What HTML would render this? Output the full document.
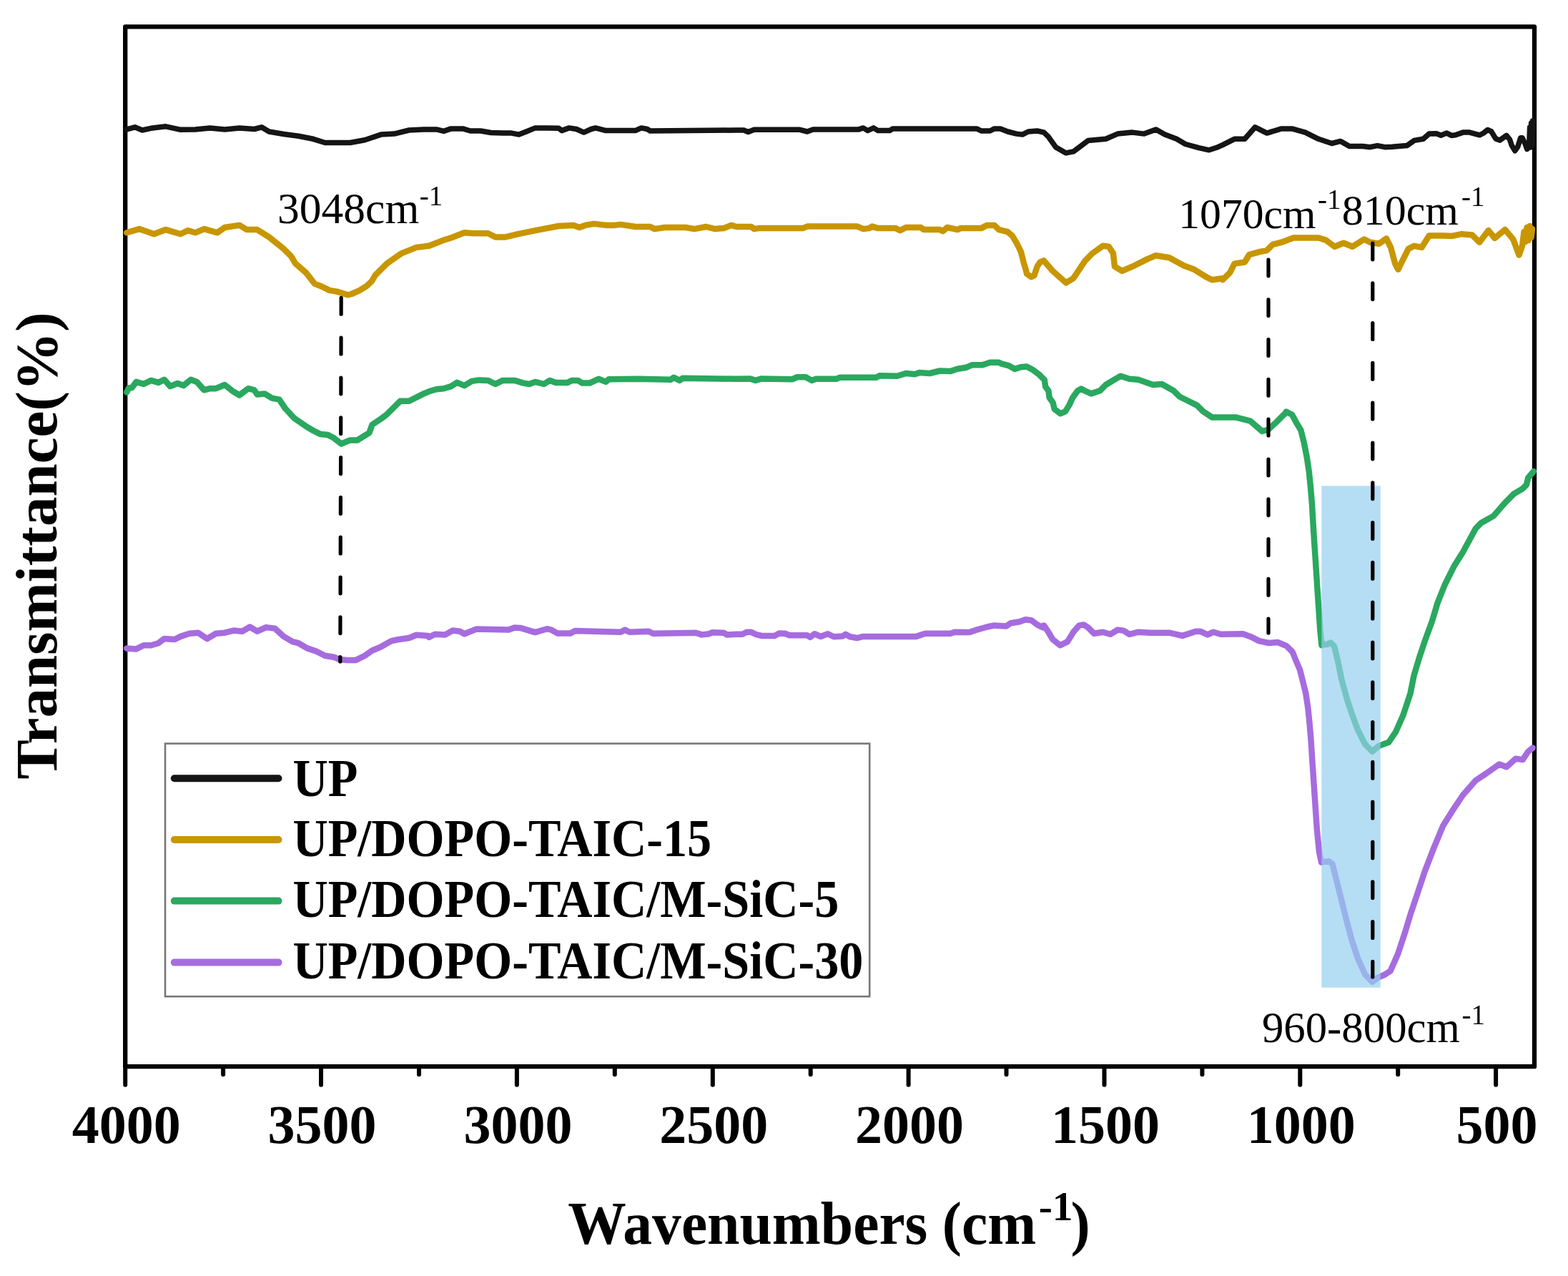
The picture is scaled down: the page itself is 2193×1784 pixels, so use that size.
<!DOCTYPE html>
<html><head><meta charset="utf-8"><title>FTIR spectra</title>
<style>html,body{margin:0;padding:0;background:#fff;}svg{display:block;filter:blur(0.7px);}</style>
</head><body>
<svg width="2193" height="1784" viewBox="0 0 2193 1784">
<rect width="2193" height="1784" fill="#fff"/>
<g stroke="#000" stroke-width="6.3" fill="none" stroke-linejoin="round">
<rect x="175.2" y="37.4" width="1970.8" height="1453.8"/>
</g>
<g stroke="#000" stroke-width="6" fill="none" stroke-linecap="round">
<line x1="175.2" y1="1491.2" x2="175.2" y2="1516.7"/><line x1="312.1" y1="1491.2" x2="312.1" y2="1502.2"/><line x1="449.0" y1="1491.2" x2="449.0" y2="1516.7"/><line x1="586.0" y1="1491.2" x2="586.0" y2="1502.2"/><line x1="722.9" y1="1491.2" x2="722.9" y2="1516.7"/><line x1="859.8" y1="1491.2" x2="859.8" y2="1502.2"/><line x1="996.8" y1="1491.2" x2="996.8" y2="1516.7"/><line x1="1133.7" y1="1491.2" x2="1133.7" y2="1502.2"/><line x1="1270.6" y1="1491.2" x2="1270.6" y2="1516.7"/><line x1="1407.5" y1="1491.2" x2="1407.5" y2="1502.2"/><line x1="1544.5" y1="1491.2" x2="1544.5" y2="1516.7"/><line x1="1681.4" y1="1491.2" x2="1681.4" y2="1502.2"/><line x1="1818.3" y1="1491.2" x2="1818.3" y2="1516.7"/><line x1="1955.2" y1="1491.2" x2="1955.2" y2="1502.2"/><line x1="2092.1" y1="1491.2" x2="2092.1" y2="1516.7"/>
</g>
<g fill="none" stroke-linejoin="round" stroke-linecap="round" stroke-width="8.5">
<path d="M177.2,180.9 L188.6,177.8 L198.9,182.0 L211.2,179.3 L231.9,176.8 L252.5,181.3 L273.1,180.9 L293.7,178.9 L314.3,180.9 L334.9,178.9 L355.6,180.5 L365.9,177.8 L376.2,184.0 L396.8,187.5 L417.4,190.2 L438.0,194.3 L454.5,199.5 L469.0,199.5 L489.6,199.5 L510.2,195.8 L532.9,188.1 L551.4,187.1 L572.1,182.0 L592.7,180.9 L600.0,180.9 L610.3,180.9 L620.6,183.4 L630.9,179.9 L647.4,179.9 L657.7,183.0 L672.2,183.0 L686.6,185.5 L703.1,186.1 L715.5,186.1 L725.8,188.1 L736.1,184.0 L748.5,178.9 L764.9,178.9 L781.4,179.3 L785.6,182.6 L795.9,178.9 L806.2,180.5 L816.5,185.1 L826.8,180.5 L833.0,178.9 L847.4,182.6 L888.7,182.6 L896.9,178.9 L905.2,180.5 L909.3,183.0 L1030.0,182.0 L1040.3,182.0 L1046.5,184.6 L1054.7,181.3 L1118.7,181.3 L1129.0,184.0 L1137.2,180.9 L1201.1,180.9 L1207.3,178.9 L1213.5,182.6 L1221.8,178.9 L1227.9,182.6 L1244.4,182.6 L1248.6,179.9 L1366.1,179.9 L1372.3,183.0 L1384.6,183.0 L1390.8,179.9 L1399.1,179.9 L1409.4,184.0 L1421.8,187.1 L1430.0,188.1 L1438.2,184.0 L1450.6,183.0 L1460.0,185.1 L1466.2,191.2 L1476.5,205.7 L1490.9,213.9 L1501.2,211.9 L1521.9,196.4 L1546.6,194.3 L1563.1,187.1 L1583.7,185.1 L1600.2,187.1 L1616.7,180.9 L1629.1,188.1 L1645.6,194.3 L1657.9,201.5 L1676.5,206.7 L1690.9,209.8 L1703.3,205.7 L1710.0,202.6 L1726.5,194.3 L1740.9,194.3 L1755.4,177.8 L1771.9,186.1 L1792.5,179.9 L1806.9,179.9 L1825.5,185.1 L1844.0,194.3 L1862.6,200.5 L1874.9,197.4 L1887.3,204.6 L1905.9,204.6 L1916.2,205.7 L1926.5,203.6 L1936.8,205.7 L1947.1,205.3 L1967.7,203.6 L1978.0,196.4 L1990.4,194.3 L1998.7,187.1 L2009.0,186.7 L2015.2,189.2 L2023.4,186.1 L2030.0,189.4 L2035.6,188.8 L2046.9,184.9 L2055.3,185.1 L2069.4,188.8 L2075.0,186.0 L2080.6,181.5 L2085.7,183.7 L2091.9,193.9 L2097.5,196.1 L2107.0,189.4 L2111.5,195.0 L2114.3,203.4 L2118.8,210.7 L2122.8,205.1 L2126.7,192.7 L2129.0,192.7 L2132.9,200.6 L2135.7,208.5 L2138.6,206.0 L2139.6,178.0 L2140.6,206.0 L2141.6,172.0 L2142.6,204.0 L2143.2,172.0 L2143.6,169.1" stroke="#151515" stroke-width="7.5"/>
<path d="M177.2,325.3 L194.7,320.1 L215.4,327.3 L231.9,321.1 L252.5,327.3 L262.8,322.2 L273.1,325.3 L285.5,320.1 L304.0,325.3 L314.3,318.0 L334.9,314.9 L345.3,321.1 L359.7,321.1 L376.2,331.4 L396.8,347.9 L407.1,358.2 L413.3,368.6 L427.7,380.9 L440.0,396.6 L450.4,400.7 L460.7,405.9 L471.1,407.6 L481.5,410.8 L486.6,412.3 L491.8,411.0 L502.2,406.4 L512.5,400.2 L519.8,393.4 L524.6,385.1 L541.1,368.6 L561.8,354.1 L582.4,345.9 L600.0,343.8 L610.3,339.7 L620.6,335.6 L630.9,332.5 L649.5,325.3 L661.9,326.3 L682.5,326.3 L692.8,331.4 L707.2,331.4 L723.7,327.3 L744.3,323.2 L764.9,319.1 L781.4,316.0 L802.1,314.9 L810.3,318.0 L818.6,314.9 L830.9,312.9 L847.4,314.9 L859.8,314.9 L868.0,313.9 L888.7,317.0 L909.3,317.0 L915.5,320.1 L929.9,318.0 L958.8,318.0 L971.1,320.1 L987.6,317.0 L1000.0,320.1 L1012.4,319.1 L1022.7,314.9 L1030.0,317.0 L1050.6,317.0 L1054.7,320.1 L1060.9,319.1 L1122.8,319.1 L1129.0,316.6 L1199.1,316.6 L1207.3,320.1 L1215.6,319.1 L1219.7,316.6 L1227.9,319.1 L1252.7,319.1 L1258.9,322.2 L1267.1,318.0 L1287.7,318.0 L1291.9,321.1 L1314.5,321.1 L1318.7,323.2 L1324.8,318.0 L1339.3,321.1 L1343.4,319.1 L1372.3,319.1 L1380.5,314.9 L1390.8,314.9 L1397.0,321.1 L1409.4,324.2 L1415.6,329.4 L1421.8,339.7 L1425.9,347.9 L1427.9,352.1 L1430.0,360.3 L1432.1,368.6 L1434.1,374.7 L1436.2,383.0 L1442.4,387.1 L1446.5,385.1 L1450.6,372.7 L1454.7,366.5 L1460.0,364.4 L1472.4,378.9 L1490.9,395.4 L1501.2,389.2 L1517.7,364.4 L1528.0,354.1 L1542.5,343.8 L1550.7,344.8 L1556.9,354.1 L1559.0,372.7 L1569.3,378.9 L1583.7,372.7 L1604.3,362.4 L1616.7,357.2 L1635.3,360.3 L1655.9,371.6 L1670.3,376.8 L1686.8,387.1 L1695.1,391.2 L1709.5,389.2 L1710.0,391.2 L1720.3,380.9 L1726.5,368.6 L1740.9,366.5 L1747.1,356.2 L1761.5,352.1 L1771.9,350.0 L1780.1,341.8 L1792.5,338.7 L1809.0,332.5 L1823.4,332.5 L1844.0,332.5 L1854.3,335.6 L1866.7,344.8 L1879.1,339.7 L1891.4,344.8 L1907.9,334.5 L1916.2,338.7 L1928.6,340.7 L1938.9,333.5 L1945.1,345.9 L1951.2,368.6 L1955.4,376.8 L1961.5,364.4 L1969.8,347.9 L1978.0,343.8 L1988.4,345.9 L1998.7,329.4 L2019.3,329.4 L2030.0,330.1 L2044.4,327.2 L2058.8,328.4 L2069.2,338.8 L2081.8,322.1 L2090.5,333.0 L2104.9,320.9 L2116.4,334.7 L2124.5,356.6 L2129.1,343.4 L2129.1,343.4 L2131.5,324.0 L2133.5,338.0 L2135.5,318.0 L2137.5,336.0 L2139.5,316.0 L2141.5,332.0 L2143.0,320.0" stroke="#C89600"/>
<path d="M177.2,548.4 L180.3,542.2 L184.4,542.2 L190.6,533.9 L200.9,537.0 L211.2,531.9 L221.5,534.9 L229.8,530.8 L238.0,540.1 L248.4,536.0 L256.6,539.1 L266.9,530.8 L275.2,533.9 L285.5,545.3 L293.7,543.2 L302.0,543.2 L314.3,538.0 L324.6,546.3 L334.9,552.5 L347.3,543.2 L355.6,545.3 L359.7,551.4 L370.0,550.4 L380.3,556.6 L390.6,558.7 L398.9,571.0 L411.2,584.4 L427.7,595.8 L438.0,602.0 L448.4,607.1 L458.7,608.1 L466.9,612.3 L477.2,620.5 L489.6,615.4 L499.9,615.4 L516.4,605.1 L520.5,593.7 L532.9,585.5 L541.1,579.3 L559.7,560.7 L572.1,560.7 L592.7,550.4 L600.0,547.3 L610.3,544.2 L620.6,543.2 L630.9,540.1 L639.2,534.9 L649.5,539.1 L659.8,532.9 L670.1,531.4 L682.5,531.9 L692.8,537.0 L703.1,531.9 L719.6,531.9 L732.0,535.6 L740.2,537.0 L748.5,533.9 L760.8,537.0 L769.1,531.9 L777.3,534.9 L793.8,534.9 L800.0,531.9 L808.2,531.9 L814.4,535.6 L824.7,535.6 L837.1,529.8 L847.4,533.9 L851.5,530.2 L892.8,529.8 L938.1,530.8 L942.3,527.7 L950.5,531.9 L954.6,528.8 L1030.0,529.8 L1048.6,529.4 L1056.8,531.9 L1065.1,529.4 L1108.4,530.2 L1114.5,527.3 L1126.9,527.3 L1135.2,531.9 L1141.3,529.8 L1170.2,529.8 L1174.3,527.7 L1225.9,527.7 L1230.0,525.3 L1254.7,525.7 L1267.1,522.0 L1279.5,523.2 L1285.7,521.1 L1300.1,522.0 L1314.5,518.5 L1329.0,519.1 L1339.3,515.8 L1351.6,513.7 L1359.9,510.2 L1374.3,510.2 L1384.6,506.7 L1397.0,506.7 L1400.0,508.3 L1410.4,511.1 L1419.4,515.9 L1427.6,513.2 L1435.9,512.5 L1444.9,517.3 L1453.9,524.2 L1460.8,531.2 L1462.2,540.8 L1466.4,546.4 L1467.7,556.0 L1472.6,562.9 L1474.7,571.9 L1482.9,578.2 L1489.9,575.4 L1495.4,566.4 L1500.2,556.0 L1507.1,546.4 L1512.0,543.6 L1520.0,547.7 L1526.0,550.4 L1538.4,546.3 L1546.6,538.0 L1567.2,525.7 L1579.6,529.8 L1592.0,530.8 L1612.6,538.0 L1624.9,537.0 L1641.4,546.3 L1649.7,554.5 L1662.1,560.7 L1674.4,566.9 L1682.7,575.2 L1695.1,583.4 L1715.7,583.4 L1728.0,583.4 L1748.7,588.6 L1756.9,595.8 L1765.2,603.0 L1773.4,600.9 L1785.8,589.6 L1798.1,577.2 L1798.7,575.6 L1807.0,579.7 L1813.2,591.1 L1819.4,601.5 L1823.6,618.1 L1827.7,638.8 L1830.8,659.6 L1832.9,680.3 L1835.0,705.2 L1836.4,730.1 L1838.1,757.1 L1840.2,788.2 L1842.2,819.3 L1844.3,850.5 L1846.4,881.6 L1848.5,902.3 L1849.6,901.1 L1855.9,901.1 L1861.0,898.6 L1866.1,903.7 L1871.1,923.9 L1876.2,949.3 L1883.8,977.2 L1891.4,1000.0 L1899.0,1020.3 L1909.2,1040.6 L1919.3,1050.7 L1928.2,1043.1 L1934.5,1040.6 L1942.1,1038.0 L1952.3,1022.8 L1962.4,1000.0 L1972.5,969.6 L1977.6,944.2 L1985.2,918.9 L1992.8,896.1 L2003.0,868.2 L2010.6,842.8 L2020.7,817.5 L2033.4,792.1 L2046.1,771.8 L2063.8,738.9 L2071.4,731.3 L2089.2,721.1 L2104.4,703.4 L2117.0,690.7 L2129.7,683.1 L2134.8,678.0 L2137.3,667.9 L2144.9,659.0" stroke="#2AA85F"/>
<path d="M177.2,906.4 L190.6,907.4 L200.9,902.3 L211.2,902.3 L221.5,899.2 L229.8,893.0 L244.2,894.0 L252.5,889.9 L264.8,885.8 L277.2,884.7 L289.6,893.0 L302.0,885.8 L314.3,884.7 L326.7,881.6 L339.1,882.7 L349.4,876.5 L359.7,882.7 L372.1,877.1 L384.4,878.6 L396.8,889.9 L409.2,897.1 L417.4,899.2 L429.8,906.4 L442.2,910.5 L454.5,916.7 L466.9,918.8 L475.2,921.9 L485.5,922.9 L497.8,922.9 L510.2,916.7 L520.5,909.5 L532.9,904.3 L547.3,896.1 L557.6,894.0 L572.1,892.0 L582.4,887.8 L598.9,888.9 L600.0,890.9 L608.2,886.8 L622.7,887.4 L633.0,881.6 L643.3,882.7 L649.5,886.2 L666.0,879.6 L711.3,880.6 L719.6,877.5 L727.8,877.9 L748.5,884.1 L764.9,879.2 L771.1,880.6 L779.4,885.4 L797.9,885.4 L804.1,882.1 L868.0,883.7 L874.2,880.6 L880.4,883.7 L907.2,882.7 L913.4,885.8 L973.2,884.7 L981.4,887.4 L991.8,886.2 L995.9,884.3 L1012.4,884.7 L1016.5,887.4 L1030.0,886.8 L1038.2,886.8 L1044.4,883.7 L1050.6,883.7 L1056.8,886.8 L1065.1,888.9 L1083.6,888.9 L1089.8,885.4 L1098.0,885.8 L1104.2,888.2 L1129.0,888.2 L1133.1,890.9 L1139.3,886.2 L1147.5,889.9 L1157.8,886.2 L1166.1,890.3 L1178.5,889.5 L1182.6,886.8 L1188.8,890.3 L1199.1,892.0 L1207.3,889.9 L1281.5,889.9 L1293.9,885.8 L1329.0,885.8 L1335.2,883.7 L1355.8,884.1 L1364.0,881.2 L1380.5,876.5 L1390.8,874.4 L1407.3,875.5 L1413.5,871.3 L1425.9,869.3 L1434.1,866.2 L1442.4,867.2 L1450.6,873.4 L1458.9,877.5 L1460.0,874.4 L1466.2,883.7 L1472.4,894.0 L1482.7,902.3 L1493.0,897.1 L1501.2,883.7 L1509.5,874.4 L1515.7,873.4 L1521.9,877.5 L1530.1,885.8 L1542.5,883.7 L1552.8,886.8 L1563.1,880.6 L1571.3,881.6 L1579.6,886.8 L1592.0,883.7 L1608.5,884.7 L1635.3,884.7 L1653.8,888.9 L1672.4,882.7 L1678.6,882.7 L1688.9,887.4 L1697.1,883.7 L1707.4,886.8 L1738.4,886.2 L1748.7,889.9 L1761.0,896.1 L1774.5,899.0 L1786.9,898.0 L1799.4,903.2 L1807.7,911.5 L1811.8,921.8 L1818.0,936.3 L1822.2,952.9 L1826.3,969.5 L1829.4,990.2 L1831.5,1010.9 L1833.6,1035.8 L1835.6,1066.9 L1837.7,1098.0 L1839.8,1129.1 L1841.9,1160.2 L1845.0,1191.2 L1848.1,1205.8 L1849.6,1205.4 L1858.5,1204.1 L1863.5,1207.9 L1868.6,1228.2 L1876.2,1258.6 L1883.8,1289.0 L1891.4,1316.9 L1899.0,1339.7 L1909.2,1362.5 L1919.3,1372.7 L1928.2,1366.3 L1937.0,1362.5 L1944.6,1357.5 L1954.8,1334.6 L1964.9,1304.2 L1972.5,1278.9 L1982.7,1248.5 L1992.8,1218.0 L2005.5,1185.1 L2018.2,1154.6 L2030.8,1134.4 L2046.1,1111.5 L2063.8,1091.3 L2079.0,1081.1 L2096.8,1068.5 L2106.9,1072.3 L2119.6,1060.8 L2129.7,1062.1 L2137.3,1050.7 L2143.7,1045.6" stroke="#A66CDF"/>
</g>
<rect x="1848.3" y="679.3" width="82.4" height="701.5" fill="rgb(150,208,240)" fill-opacity="0.7"/>
<g stroke="#000" stroke-width="5.2" stroke-dasharray="22.8 33" stroke-linecap="round" fill="none">
<line x1="477.2" y1="416.4" x2="475.8" y2="925"/>
<line x1="1774" y1="363" x2="1774" y2="885"/>
<line x1="1919.8" y1="340" x2="1919.8" y2="1366"/>
</g>

<g font-family="'Liberation Serif', serif" font-weight="bold" font-size="76" text-anchor="middle" fill="#000">
<text x="176.7" y="1598.3">4000</text><text x="450.5" y="1598.3">3500</text><text x="724.4" y="1598.3">3000</text><text x="998.2" y="1598.3">2500</text><text x="1272.1" y="1598.3">2000</text><text x="1546.0" y="1598.3">1500</text><text x="1819.8" y="1598.3">1000</text><text x="2093.6" y="1598.3">500</text>
</g>
<rect x="231" y="1039.6" width="985.2" height="353.6" fill="none" stroke="#777" stroke-width="2.6"/>
<g stroke-width="10" stroke-linecap="round">
<line x1="243.8" y1="1088.3" x2="389.5" y2="1088.3" stroke="#151515"/>
<line x1="243.8" y1="1174" x2="389.5" y2="1174" stroke="#C89600"/>
<line x1="243.8" y1="1259.6" x2="389.5" y2="1259.6" stroke="#2AA85F"/>
<line x1="243.8" y1="1345.6" x2="389.5" y2="1345.6" stroke="#A66CDF"/>
</g>
<g font-family="'Liberation Serif', serif" font-weight="bold" font-size="68.2" fill="#000">
<text transform="translate(409.4,1112.7) scale(1,1.07)">UP</text>
<text transform="translate(409.4,1197.4) scale(1,1.07)">UP/DOPO-TAIC-15</text>
<text transform="translate(409.4,1282.2) scale(1,1.07)">UP/DOPO-TAIC/M-SiC-5</text>
<text transform="translate(409.4,1367.8) scale(1,1.07)">UP/DOPO-TAIC/M-SiC-30</text>
</g>
<g font-family="'Liberation Serif', serif" fill="#000">
<text x="388.1" y="312" font-size="61.5">3048cm</text><text x="586.7" y="287" font-size="39">-1</text>
<text x="1648.2" y="319" font-size="59.7">1070cm</text><text x="1843" y="292" font-size="39">-1</text>
<text x="1876.8" y="313.5" font-size="59.9">810cm</text><text x="2044" y="288" font-size="39">-1</text>
<text x="1764.9" y="1457" font-size="60.8">960-800cm</text><text x="2044.5" y="1432" font-size="39">-1</text>
</g>
<g font-family="'Liberation Serif', serif" font-weight="bold" fill="#000">
<text transform="translate(794.2,1739) scale(1,1.035)" font-size="81.6">Wavenumbers (cm</text>
<text x="1452.7" y="1706" font-size="57.5">-1</text>
<text transform="translate(1497.6,1739) scale(1,1.035)" font-size="81.6">)</text>
<text transform="translate(79.1,1089.5) rotate(-90)" x="0" y="0" font-size="83">Transmittance(%)</text>
</g>
</svg>
</body></html>
